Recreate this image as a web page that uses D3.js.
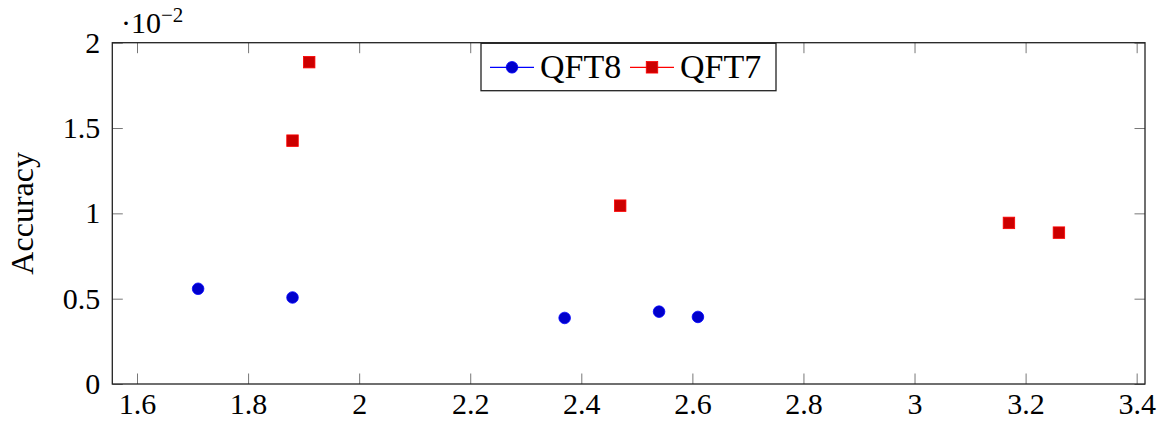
<!DOCTYPE html>
<html>
<head>
<meta charset="utf-8">
<script src="https://cdn.jsdelivr.net/npm/d3@7"></script>
<style>
    body { margin: 0; background: #fff; }
    svg text { font-family: 'Liberation Serif' !important; }
</style>
</head>
<body>
<div id="chart"></div>
<script>
// Data (accuracy values are in units of 10^-2)
var seriesNames = ["QFT8", "QFT7"];
var qft8X = [1.71, 1.88, 2.37, 2.54, 2.61];
var qft8Y = [0.558, 0.507, 0.387, 0.424, 0.393];
var qft7X = [1.88, 1.91, 2.47, 3.17, 3.26];
var qft7Y = [1.426, 1.886, 1.045, 0.944, 0.887];
var xTicks = [1.6, 1.8, 2, 2.2, 2.4, 2.6, 2.8, 3, 3.2, 3.4];
var yTicks = [0, 0.5, 1, 1.5, 2];

var svgWidth = 1165;
var svgHeight = 421;

var margin = { top: 42.7, right: 20, bottom: 37, left: 112.3 };
var width = svgWidth - margin.left - margin.right;
var height = svgHeight - margin.top - margin.bottom;

var labelFont = "Liberation Serif";

var svg = d3.select("#chart")
    .append("svg")
    .attr("width", svgWidth)
    .attr("height", svgHeight)
    .attr("font-family", labelFont);

var chartGroup = svg.append("g")
    .attr("transform", `translate(${margin.left}, ${margin.top})`);

// Scales
var xScale = d3.scaleLinear().domain([1.5555, 3.415]).range([0, width]);
var yScale = d3.scaleLinear().domain([0, 2]).range([height, 0]);

var fmt = d => String(d);
var tickLen = 10.5;
var fontSize = 30;

// Axes: pgfplots style, ticks pointing inwards on all four sides
var bottomAxis = d3.axisBottom(xScale).tickValues(xTicks).tickSizeInner(-tickLen).tickSizeOuter(0).tickPadding(17).tickFormat(fmt);
var topAxis = d3.axisTop(xScale).tickValues(xTicks).tickSizeInner(-tickLen).tickSizeOuter(0).tickFormat("");
var leftAxis = d3.axisLeft(yScale).tickValues(yTicks).tickSizeInner(-tickLen).tickSizeOuter(0).tickPadding(12).tickFormat(fmt);
var rightAxis = d3.axisRight(yScale).tickValues(yTicks).tickSizeInner(-tickLen).tickSizeOuter(0).tickFormat("");

function styleAxis(g) {
    g.attr("font-family", labelFont);
    g.select(".domain").remove();
    g.selectAll(".tick line").attr("stroke", "#777").attr("stroke-width", 1);
    g.selectAll(".tick text")
        .attr("font-size", fontSize)
        .attr("font-family", labelFont)
        .attr("fill", "#000");
}

var xAxis = chartGroup.append("g").attr("transform", `translate(0, ${height})`).call(bottomAxis).call(styleAxis);
chartGroup.append("g").call(topAxis).call(styleAxis);
chartGroup.append("g").call(leftAxis).call(styleAxis);
chartGroup.append("g").attr("transform", `translate(${width}, 0)`).call(rightAxis).call(styleAxis);

xAxis.selectAll(".tick text").attr("dy", "0.44em");

// Frame
chartGroup.append("rect")
    .attr("x", 0)
    .attr("y", 0)
    .attr("width", width)
    .attr("height", height)
    .attr("fill", "none")
    .attr("stroke", "#222")
    .attr("stroke-width", 1.3);

// Markers
var qft8 = qft8X.map((x, i) => ({ x: x, y: qft8Y[i] }));
var qft7 = qft7X.map((x, i) => ({ x: x, y: qft7Y[i] }));

chartGroup.selectAll("circle.qft8")
    .data(qft8)
    .enter()
    .append("circle")
    .attr("class", "qft8")
    .attr("cx", d => xScale(d.x))
    .attr("cy", d => yScale(d.y))
    .attr("r", 5.8)
    .attr("fill", "#0000cc")
    .attr("stroke", "#0000ff")
    .attr("stroke-width", 0.8);

var sq = 11.5;
chartGroup.selectAll("rect.qft7")
    .data(qft7)
    .enter()
    .append("rect")
    .attr("class", "qft7")
    .attr("x", d => xScale(d.x) - sq / 2)
    .attr("y", d => yScale(d.y) - sq / 2)
    .attr("width", sq)
    .attr("height", sq)
    .attr("fill", "#cc0000")
    .attr("stroke", "#ff0000")
    .attr("stroke-width", 0.8);

// Y axis label
svg.append("text")
    .attr("transform", `translate(33, ${margin.top + height / 2}) rotate(-90)`)
    .attr("text-anchor", "middle")
    .attr("font-size", 32)
    .text("Accuracy");

// Scale exponent
var expo = svg.append("text")
    .attr("x", 121)
    .attr("y", 33)
    .attr("font-size", fontSize);
expo.append("tspan").text("\u00b710");
expo.append("tspan").attr("dy", -11).attr("font-size", 21).text("\u22122");

// Legend
var legend = svg.append("g").attr("transform", "translate(481, 43.3)");
legend.append("rect")
    .attr("width", 295)
    .attr("height", 47.4)
    .attr("fill", "#fff")
    .attr("stroke", "#222")
    .attr("stroke-width", 1.3);

var legendItems = [
    { name: seriesNames[0], color: "#0000ff", fill: "#0000cc", shape: "circle", x: 9 },
    { name: seriesNames[1], color: "#ff0000", fill: "#cc0000", shape: "square", x: 149 }
];
legendItems.forEach(function(item) {
    var g = legend.append("g").attr("transform", `translate(${item.x}, 24)`);
    g.append("line").attr("x1", 0).attr("x2", 44).attr("stroke", item.color).attr("stroke-width", 1.3);
    if (item.shape === "circle") {
        g.append("circle").attr("cx", 22).attr("r", 5.8).attr("fill", item.fill).attr("stroke", item.color).attr("stroke-width", 0.8);
    } else {
        g.append("rect").attr("x", 22 - sq / 2).attr("y", -sq / 2).attr("width", sq).attr("height", sq).attr("fill", item.fill).attr("stroke", item.color).attr("stroke-width", 0.8);
    }
    g.append("text").attr("x", 50).attr("y", 10.5).attr("font-size", 34).text(item.name);
});
</script>
</body>
</html>
